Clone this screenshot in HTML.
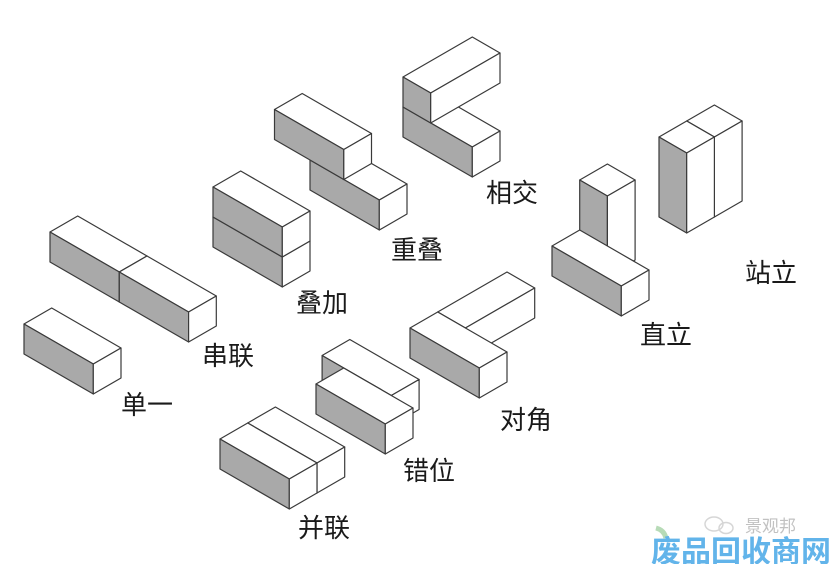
<!DOCTYPE html>
<html><head><meta charset="utf-8"><style>
html,body{margin:0;padding:0;background:#fff;}
svg{display:block;}
text{font-family:"Liberation Sans","Noto Sans CJK SC",sans-serif;}
</style></head><body>
<svg id="s" width="832" height="564" viewBox="0 0 832 564" xmlns="http://www.w3.org/2000/svg">
<g id="boxes" stroke="#3a3a3a" stroke-width="1.2" stroke-linejoin="round"></g>
<g font-size="26" fill="#1a1a1a">
<text x="121" y="414">单一</text>
<text x="202" y="365">串联</text>
<text x="296" y="312">叠加</text>
<text x="391" y="259">重叠</text>
<text x="486" y="202">相交</text>
<text x="745" y="282">站立</text>
<text x="640" y="344">直立</text>
<text x="500" y="429">对角</text>
<text x="403" y="480">错位</text>
<text x="298" y="537">并联</text>
</g>
<g opacity="0.6">
<ellipse cx="714" cy="524" rx="9" ry="7" fill="none" stroke="#bbb" stroke-width="1.5"/>
<ellipse cx="726" cy="528" rx="7" ry="5.5" fill="none" stroke="#bbb" stroke-width="1.5"/>
<text x="745" y="532" font-size="17" fill="#999">景观邦</text>
</g>
<path d="M656 528 q8 2 10 10" stroke="#9c9" stroke-width="5" fill="none" opacity="0.7"/>
<text x="651" y="562" font-size="30" font-weight="bold" fill="#62b4ea" letter-spacing="0">废品回收商网</text>
</svg>
<script>
var g=document.getElementById('boxes');
var A=[0.866,0.5],B=[0.866,-0.5];
function P(o,x,y,z){return [o[0]+x*A[0]+y*B[0],o[1]+x*A[1]+y*B[1]-z];}
function poly(pts,fill){var p=document.createElementNS('http://www.w3.org/2000/svg','polygon');
p.setAttribute('points',pts.map(function(q){return q[0].toFixed(1)+','+q[1].toFixed(1)}).join(' '));
p.setAttribute('fill',fill);g.appendChild(p);}
// o: screen of 3D origin; box at (x,y,z) size (l,w,h)
function box(o,x,y,z,l,w,h){
 var x2=x+l,y2=y+w,z2=z+h;
 poly([P(o,x,y,z2),P(o,x2,y,z2),P(o,x2,y2,z2),P(o,x,y2,z2)],'#fff');
 poly([P(o,x,y,z),P(o,x2,y,z),P(o,x2,y,z2),P(o,x,y,z2)],'#a9a9a9');
 poly([P(o,x2,y,z),P(o,x2,y2,z),P(o,x2,y2,z2),P(o,x2,y,z2)],'#fff');
}
// 单一
box([24,354],0,0,0,80,32,30);
// 串联
box([50,262],0,0,0,80,32,30);box([50,262],80,0,0,80,32,30);
// 叠加
box([213,247],0,0,0,80,32,30);box([213,247],0,0,30,80,32,30);
// 重叠
box([310,190],0,0,0,80,32,30);box([310,190],-41,0,30,80,32,30);
// 相交
box([403,137],0,0,0,80,32,30);box([403,137],0,0,30,32,80,30);
// 直立
box([552,276],0,32,0,32,32,80);box([552,276],0,0,0,80,32,30);
// 站立
box([659,217],0,32,0,32,32,80);box([659,217],0,0,0,32,32,80);
// 对角
box([410,358],0,32,0,32,80,30);box([410,358],0,0,0,80,32,30);
// 错位
box([316,414],-25,32,0,80,32,30);box([316,414],0,0,0,80,32,30);
// 并联
box([220,469],0,32,0,80,32,30);box([220,469],0,0,0,80,32,30);
</script>
</body></html>
